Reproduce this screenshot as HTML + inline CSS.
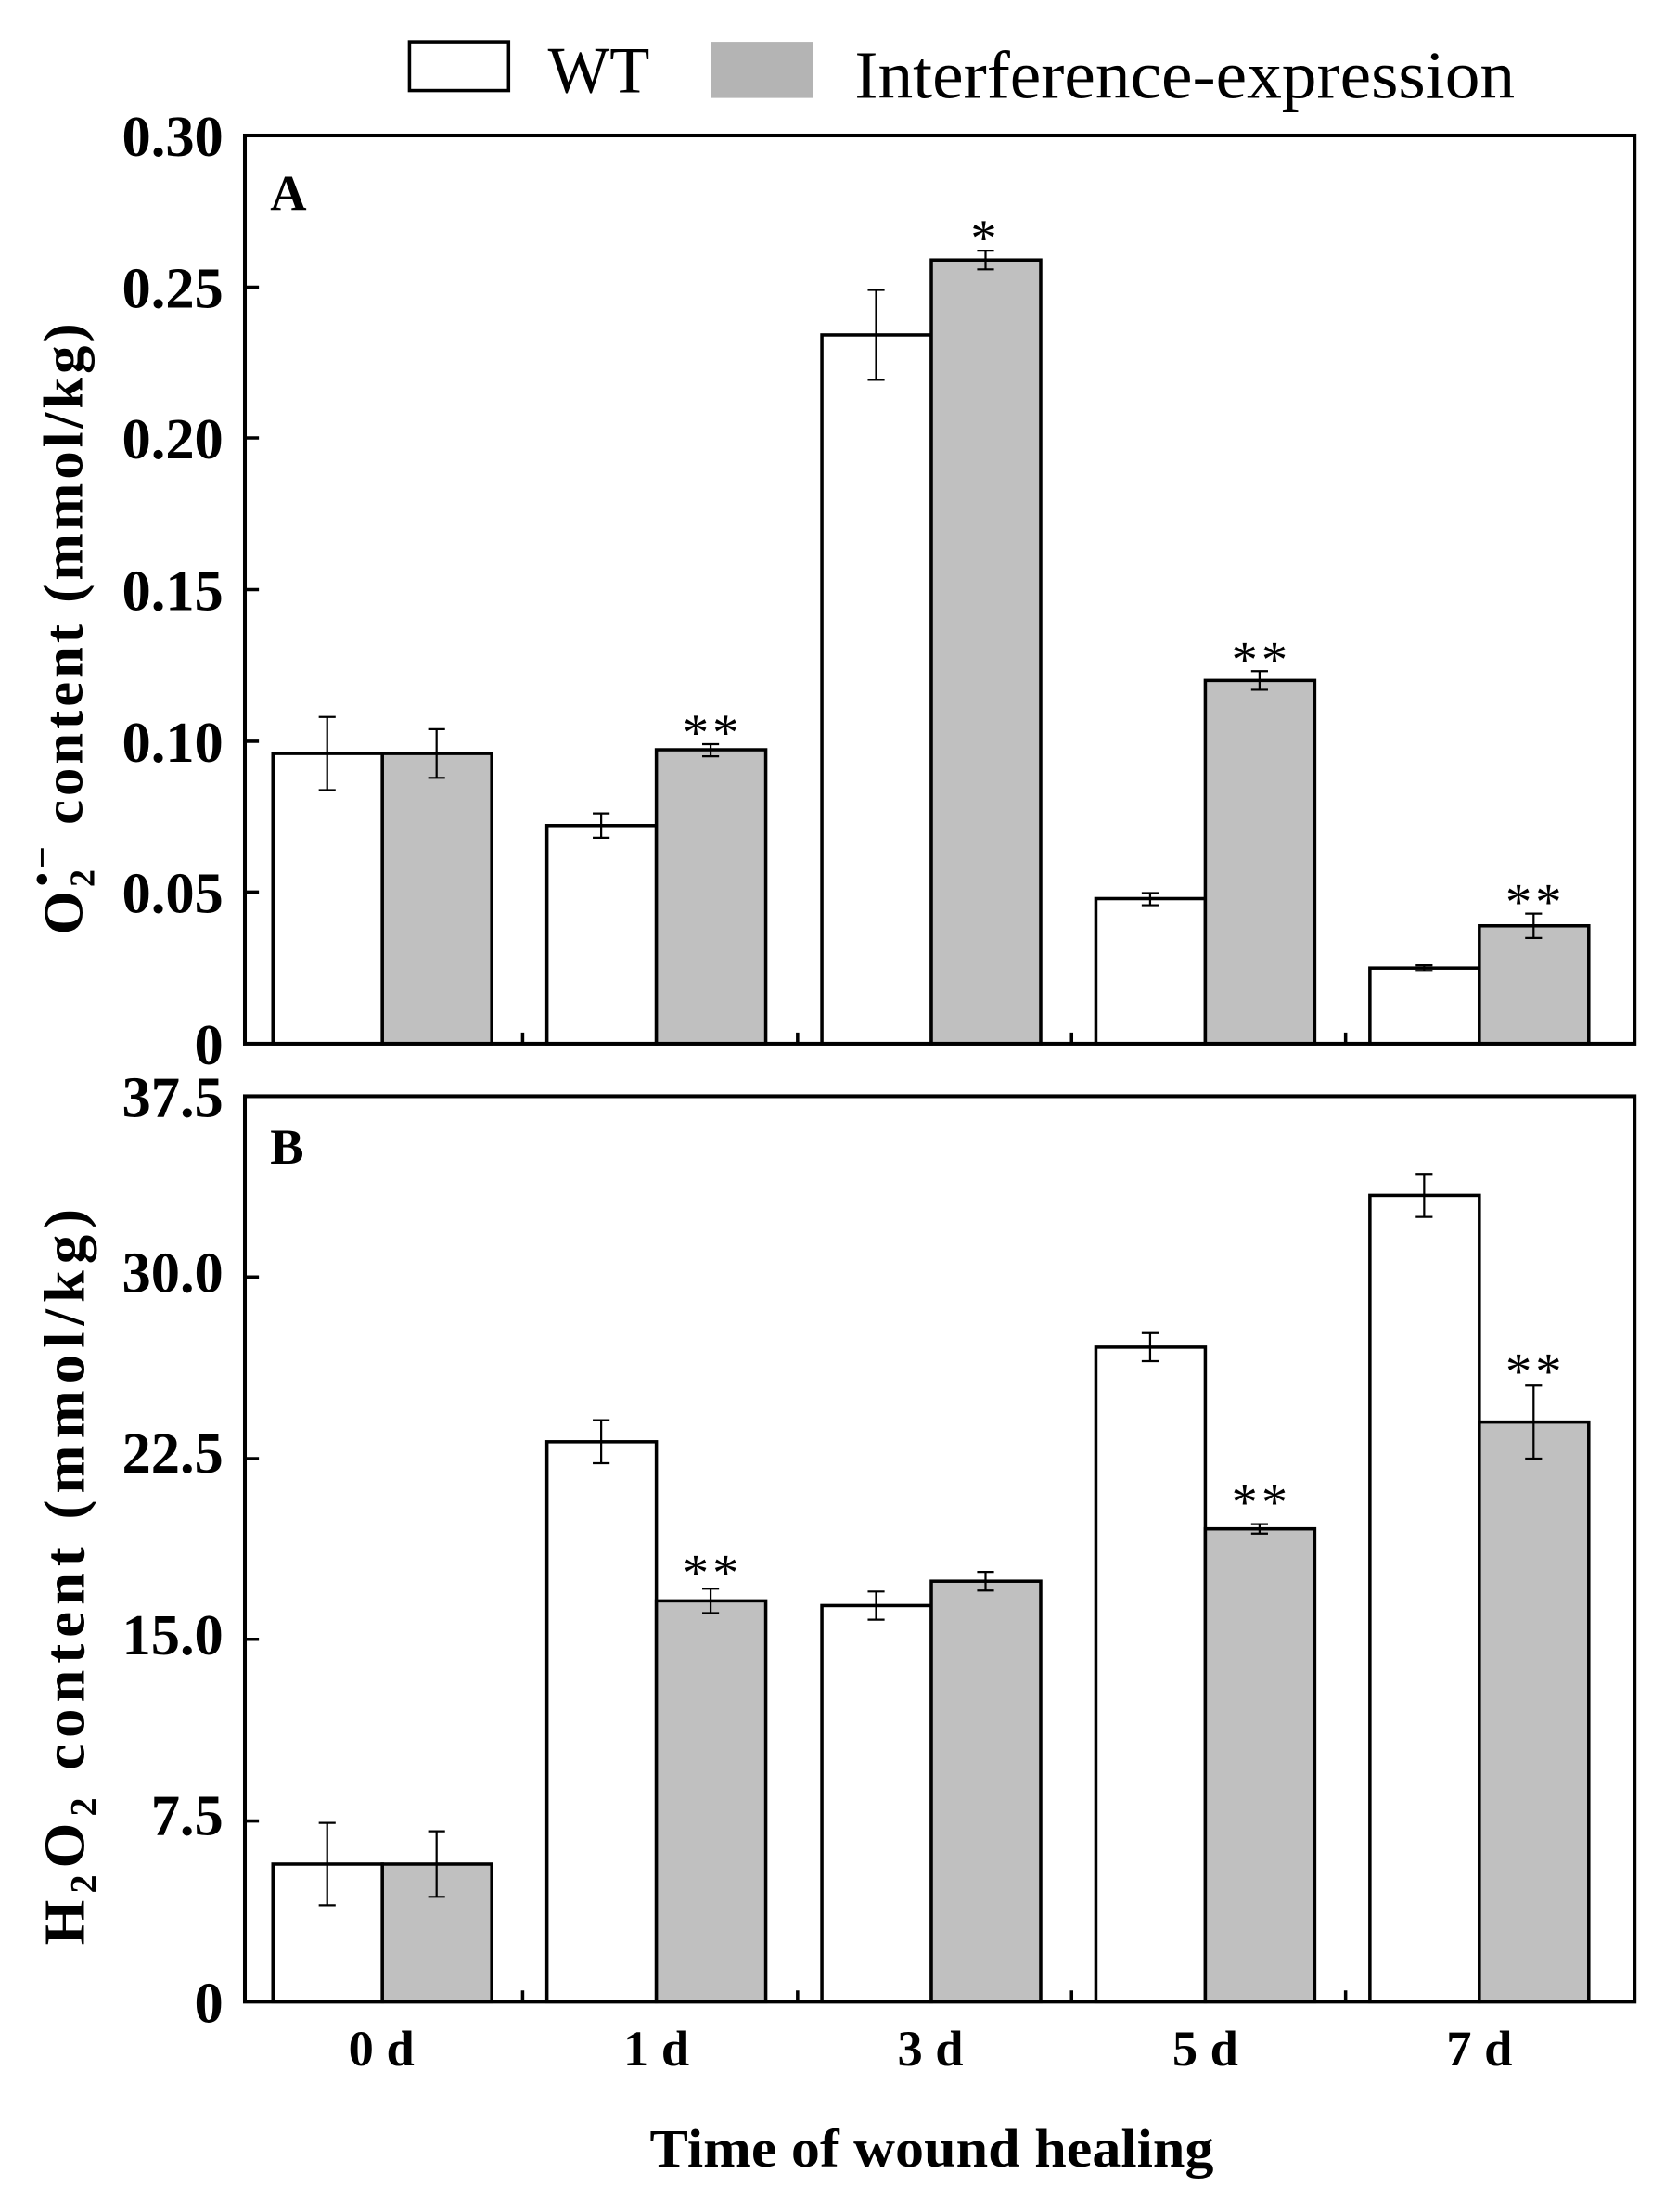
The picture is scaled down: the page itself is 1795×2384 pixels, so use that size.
<!DOCTYPE html>
<html><head><meta charset="utf-8"><style>
html,body{margin:0;padding:0;background:#fff;}
svg{display:block;}
text{font-family:"Liberation Serif",serif;fill:#000;}
.b{font-weight:bold;}
</style></head><body>
<svg width="1795" height="2384" viewBox="0 0 1795 2384" xmlns="http://www.w3.org/2000/svg">
<g transform="translate(264,146) scale(1.0082,1.0092) translate(-264,-146)">
<!-- Legend -->
<rect x="440" y="46" width="106" height="52" fill="#fff" stroke="#000" stroke-width="3.5"/>
<text x="588" y="100" font-size="70">WT</text>
<rect x="762" y="46" width="110" height="60" fill="#b4b4b4"/>
<text x="916" y="106" font-size="72" textLength="706" lengthAdjust="spacingAndGlyphs">Interference-expression</text>

<!-- ===== Panel A ===== -->
<g stroke="#000" stroke-width="3.5">
<rect x="294" y="806" width="117" height="310" fill="#fff"/>
<rect x="411" y="806" width="117" height="310" fill="#c0c0c0"/>
<rect x="587" y="883" width="117" height="233" fill="#fff"/>
<rect x="704" y="802" width="117" height="314" fill="#c0c0c0"/>
<rect x="881" y="359" width="117" height="757" fill="#fff"/>
<rect x="998" y="279" width="117" height="837" fill="#c0c0c0"/>
<rect x="1174" y="961" width="117" height="155" fill="#fff"/>
<rect x="1291" y="728" width="117" height="388" fill="#c0c0c0"/>
<rect x="1467" y="1035" width="117" height="81" fill="#fff"/>
<rect x="1584" y="990" width="117" height="126" fill="#c0c0c0"/>
</g>
<g stroke="#000" stroke-width="2.2" fill="none">
<path d="M352 767V845M343 767H361M343 845H361"/>
<path d="M469 780V832M460 780H478M460 832H478"/>
<path d="M645 870V896M636 870H654M636 896H654"/>
<path d="M762 796V809M753 796H771M753 809H771"/>
<path d="M939 311V407M930 311H948M930 407H948"/>
<path d="M1056 269V289M1047 269H1065M1047 289H1065"/>
<path d="M1232 955V968M1223 955H1241M1223 968H1241"/>
<path d="M1349 718V738M1340 718H1358M1340 738H1358"/>
<path d="M1525 1032V1038M1516 1032H1534M1516 1038H1534"/>
<path d="M1642 977V1003M1633 977H1651M1633 1003H1651"/>
</g>
<rect x="264" y="146" width="1486" height="970" fill="none" stroke="#000" stroke-width="4"/>
<g stroke="#000" stroke-width="3.5">
<path d="M264 954H279M264 793H279M264 631H279M264 469H279M264 308H279"/>
<path d="M561 1116V1104M855 1116V1104M1148 1116V1104M1441 1116V1104"/>
</g>
<g class="b" font-size="62" text-anchor="end">
<text x="241" y="168">0.30</text>
<text x="241" y="330">0.25</text>
<text x="241" y="491">0.20</text>
<text x="241" y="653">0.15</text>
<text x="241" y="815">0.10</text>
<text x="241" y="976">0.05</text>
<text x="241" y="1138">0</text>
</g>
<text x="291" y="226" class="b" font-size="54">A</text>
<g font-size="56" text-anchor="middle" letter-spacing="4">
<text x="764" y="802">**</text>
<text x="1056" y="274">*</text>
<text x="1351" y="724">**</text>
<text x="1644" y="983">**</text>
</g>
<text class="b" font-size="60" letter-spacing="4" transform="translate(90,671) rotate(-90)" text-anchor="middle">O<tspan font-size="38" dy="13">2</tspan><tspan font-size="42" dy="-42" dx="-22">•−</tspan><tspan dy="29"> content (mmol/kg)</tspan></text>

<!-- ===== Panel B ===== -->
<g stroke="#000" stroke-width="3.5">
<rect x="294" y="1992" width="117" height="147" fill="#fff"/>
<rect x="411" y="1992" width="117" height="147" fill="#c0c0c0"/>
<rect x="587" y="1541" width="117" height="598" fill="#fff"/>
<rect x="704" y="1711" width="117" height="428" fill="#c0c0c0"/>
<rect x="881" y="1716" width="117" height="423" fill="#fff"/>
<rect x="998" y="1690" width="117" height="449" fill="#c0c0c0"/>
<rect x="1174" y="1440" width="117" height="699" fill="#fff"/>
<rect x="1291" y="1634" width="117" height="505" fill="#c0c0c0"/>
<rect x="1467" y="1278" width="117" height="861" fill="#fff"/>
<rect x="1584" y="1520" width="117" height="619" fill="#c0c0c0"/>
</g>
<g stroke="#000" stroke-width="2.2" fill="none">
<path d="M352 1948V2036M343 1948H361M343 2036H361"/>
<path d="M469 1957V2027M460 1957H478M460 2027H478"/>
<path d="M645 1518V1564M636 1518H654M636 1564H654"/>
<path d="M762 1698V1724M753 1698H771M753 1724H771"/>
<path d="M939 1701V1731M930 1701H948M930 1731H948"/>
<path d="M1056 1680V1700M1047 1680H1065M1047 1700H1065"/>
<path d="M1232 1425V1455M1223 1425H1241M1223 1455H1241"/>
<path d="M1349 1629V1639M1340 1629H1358M1340 1639H1358"/>
<path d="M1525 1255V1301M1516 1255H1534M1516 1301H1534"/>
<path d="M1642 1481V1559M1633 1481H1651M1633 1559H1651"/>
</g>
<rect x="264" y="1172" width="1486" height="967" fill="none" stroke="#000" stroke-width="4"/>
<g stroke="#000" stroke-width="3.5">
<path d="M264 1946H279M264 1752H279M264 1559H279M264 1365H279"/>
<path d="M561 2139V2127M855 2139V2127M1148 2139V2127M1441 2139V2127"/>
</g>
<g class="b" font-size="62" text-anchor="end">
<text x="241" y="1194">37.5</text>
<text x="241" y="1381">30.0</text>
<text x="241" y="1574">22.5</text>
<text x="241" y="1768">15.0</text>
<text x="241" y="1961">7.5</text>
<text x="241" y="2161">0</text>
</g>
<text x="291" y="1244" class="b" font-size="54">B</text>
<g font-size="56" text-anchor="middle" letter-spacing="4">
<text x="764" y="1699">**</text>
<text x="1351" y="1624">**</text>
<text x="1644" y="1484">**</text>
</g>
<text class="b" font-size="62" letter-spacing="7" transform="translate(92,1682) rotate(-90)" text-anchor="middle">H<tspan font-size="40" dy="13">2</tspan><tspan dy="-13">O</tspan><tspan font-size="40" dy="13">2</tspan><tspan dy="-13"> content (mmol/kg)</tspan></text>

<!-- X labels -->
<g class="b" font-size="54" text-anchor="middle">
<text x="410" y="2207">0 d</text>
<text x="704" y="2207">1 d</text>
<text x="997" y="2207">3 d</text>
<text x="1291" y="2207">5 d</text>
<text x="1584" y="2207">7 d</text>
</g>
<text x="697" y="2315" class="b" font-size="58" textLength="603" lengthAdjust="spacingAndGlyphs">Time of wound healing</text>
</g>
</svg>
</body></html>
